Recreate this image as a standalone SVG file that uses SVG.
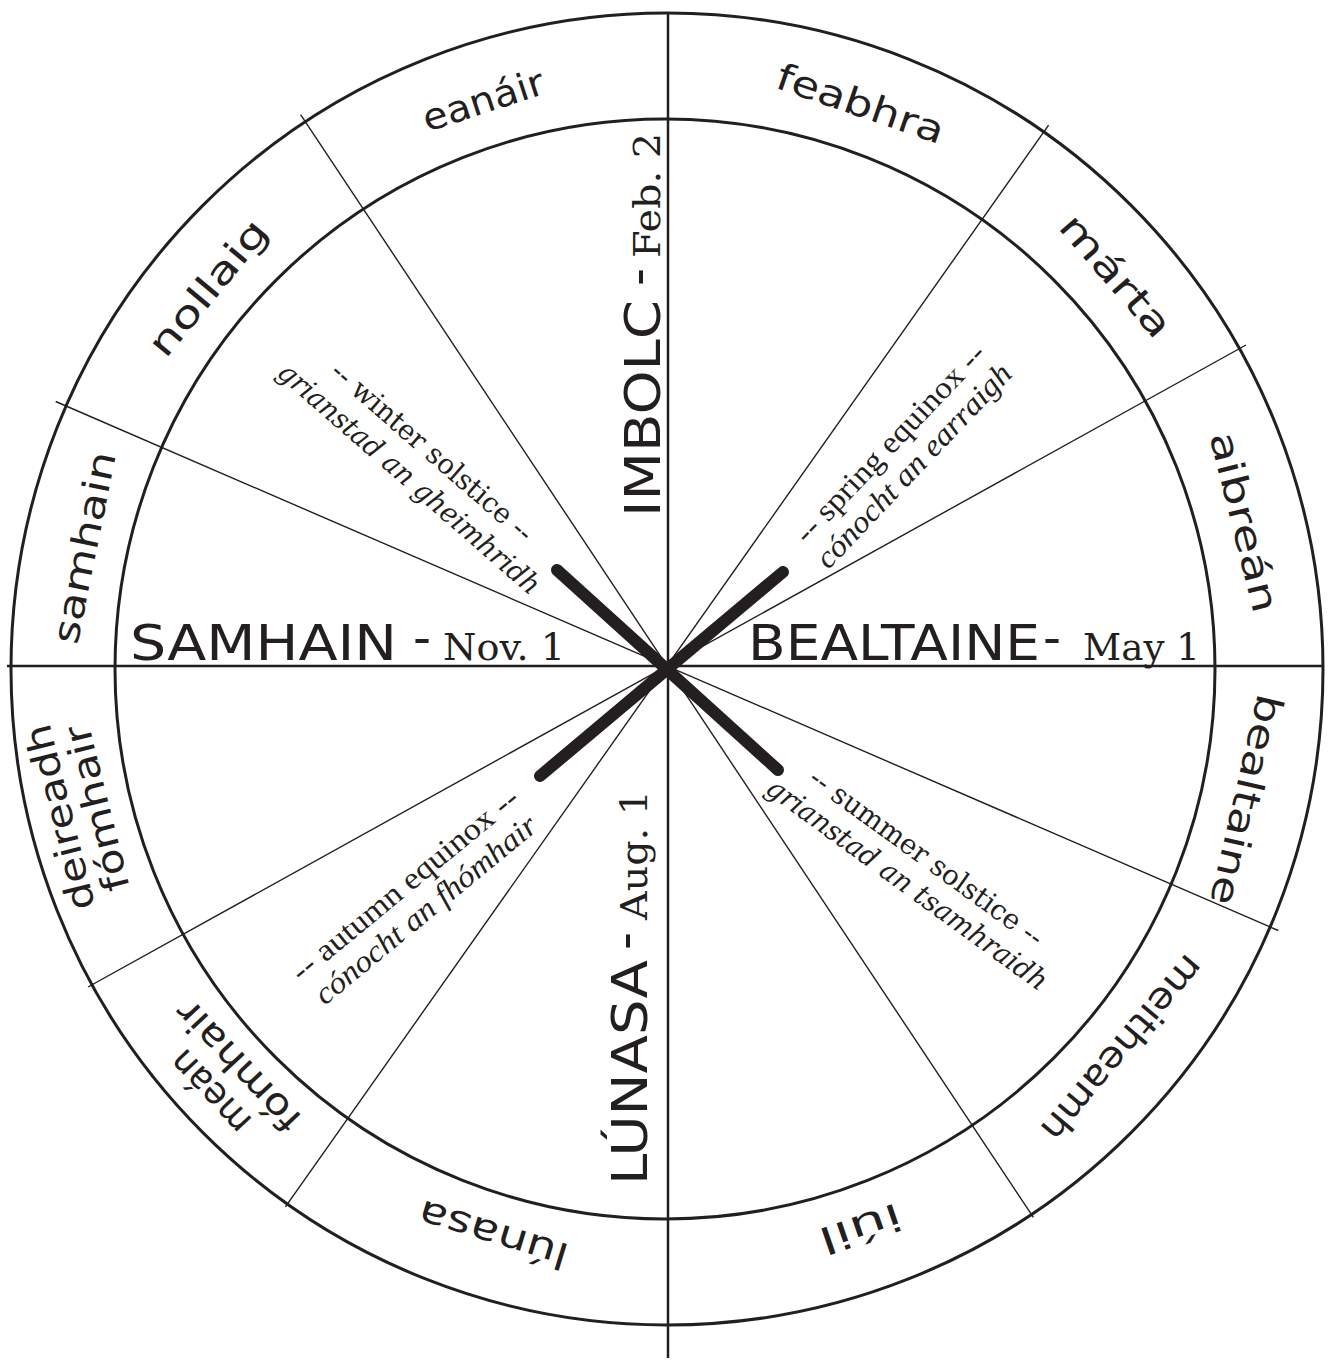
<svg xmlns="http://www.w3.org/2000/svg" width="1333" height="1360" viewBox="0 0 1333 1360">
<style>
.ring{fill:none;stroke:#231f20;stroke-width:3}
.axis{stroke:#231f20;stroke-width:2.5}
.div{stroke:#231f20;stroke-width:1.4}
.bar{stroke:#231f20;stroke-width:12;stroke-linecap:round}
.month{font-family:"DejaVu Sans",sans-serif;font-size:37px;fill:#231f20;text-anchor:middle}
.fest{font-family:"DejaVu Sans",sans-serif;font-size:50px;fill:#231f20}
.date{font-family:"DejaVu Serif",serif;font-size:38px;fill:#231f20}
.sol{font-family:"DejaVu Serif",serif;font-size:28px;fill:#231f20;text-anchor:middle}
.eq{font-family:"Liberation Serif",serif;font-size:31px;fill:#231f20;text-anchor:middle}
.it{font-style:italic}
</style>
<rect width="1333" height="1360" fill="#fff"/>
<g id="wheel">
<circle class="ring" cx="667" cy="669" r="656"/>
<circle class="ring" cx="665" cy="669" r="550"/>
</g>
<g id="connectors">
<line class="axis" x1="7" y1="666" x2="1324" y2="666"/>
<line class="axis" x1="668" y1="12" x2="668" y2="1358"/>
<line class="div" x1="55.7" y1="401.5" x2="1278.3" y2="930.5"/>
<line class="div" x1="300.6" y1="114.6" x2="1033.4" y2="1217.4"/>
<line class="div" x1="1048.6" y1="125.1" x2="285.4" y2="1206.9"/>
<line class="div" x1="1246" y1="345" x2="88" y2="987"/>
<line class="bar" x1="557" y1="570" x2="778" y2="770"/>
<line class="bar" x1="783" y1="572" x2="540" y2="776"/>
</g>
<g id="months">
<g id="m-eanair" transform="rotate(-18 667 666)"><text class="month" x="667" y="84" textLength="126" lengthAdjust="spacingAndGlyphs">eanáir</text></g>
<g id="m-feabhra" transform="rotate(19 667 666)"><text class="month" x="667" y="84" textLength="175" lengthAdjust="spacingAndGlyphs">feabhra</text></g>
<g id="m-marta" transform="rotate(49 667 666)"><text class="month" x="667" y="84" textLength="150" lengthAdjust="spacingAndGlyphs">márta</text></g>
<g id="m-aibrean" transform="rotate(76 667 666)"><text class="month" x="667" y="84" textLength="185" lengthAdjust="spacingAndGlyphs">aibreán</text></g>
<g id="m-bealtaine" transform="rotate(103 667 666)"><text class="month" x="667" y="84" textLength="215" lengthAdjust="spacingAndGlyphs">bealtaine</text></g>
<g id="m-meitheamh" transform="rotate(130 667 666)"><text class="month" x="667" y="84" textLength="230" lengthAdjust="spacingAndGlyphs">meitheamh</text></g>
<g id="m-iuil" transform="rotate(161 667 666)"><text class="month" x="667" y="84" textLength="85" lengthAdjust="spacingAndGlyphs">iúil</text></g>
<g id="m-lunasa" transform="rotate(197 667 666)"><text class="month" x="667" y="84" textLength="155" lengthAdjust="spacingAndGlyphs">lúnasa</text></g>
<g id="m-mean-fomhair" transform="rotate(227 667 666)"><text class="month" x="667" y="54" textLength="100" lengthAdjust="spacingAndGlyphs">meán</text><text class="month" x="667" y="92" textLength="165" lengthAdjust="spacingAndGlyphs">fómhair</text></g>
<g id="m-deireadh-fomhair" transform="rotate(256 667 666)"><text class="month" x="667" y="53" textLength="190" lengthAdjust="spacingAndGlyphs">deireadh</text><text class="month" x="667" y="91" textLength="170" lengthAdjust="spacingAndGlyphs">fómhair</text></g>
<g id="m-samhain" transform="rotate(281.5 667 666)"><text class="month" x="667" y="84" textLength="195" lengthAdjust="spacingAndGlyphs">samhain</text></g>
<g id="m-nollaig" transform="rotate(-50.5 667 666)"><text class="month" x="667" y="84" textLength="165" lengthAdjust="spacingAndGlyphs">nollaig</text></g>
</g>
<g id="festivals">
<g id="f-samhain"><text class="fest" x="130" y="660" textLength="267" lengthAdjust="spacingAndGlyphs">SAMHAIN</text><text class="fest" x="413" y="655">-</text><text class="date" x="443" y="660" textLength="122" lengthAdjust="spacingAndGlyphs">Nov. 1</text></g>
<g id="f-bealtaine"><text class="fest" x="748" y="660" textLength="292" lengthAdjust="spacingAndGlyphs">BEALTAINE</text><text class="fest" x="1043" y="655">-</text><text class="date" x="1083" y="660" textLength="117" lengthAdjust="spacingAndGlyphs">May 1</text></g>
<g id="f-imbolc" transform="translate(660 0) rotate(-90)"><text class="fest" x="-517" y="0" textLength="217" lengthAdjust="spacingAndGlyphs">IMBOLC</text><text class="fest" x="-286" y="-5">-</text><text class="date" x="-258" y="0" textLength="125" lengthAdjust="spacingAndGlyphs">Feb. 2</text></g>
<g id="f-lunasa" transform="translate(647 0) rotate(-90)"><text class="fest" x="-1185" y="0" textLength="225" lengthAdjust="spacingAndGlyphs">LÚNASA</text><text class="fest" x="-950" y="-5">-</text><text class="date" x="-920" y="0" textLength="130" lengthAdjust="spacingAndGlyphs">Aug. 1</text></g>
</g>
<g id="seasons">
<g id="s-winter" transform="translate(426 459) rotate(41)"><text class="sol" x="0" y="0" textLength="258" lengthAdjust="spacingAndGlyphs">-- winter solstice --</text><text class="sol it" x="0" y="35" textLength="337" lengthAdjust="spacingAndGlyphs">grianstad an gheimhridh</text></g>
<g id="s-spring" transform="translate(897 450) rotate(-46.5)"><text class="eq" x="0" y="0" textLength="262" lengthAdjust="spacingAndGlyphs">-- spring equinox --</text><text class="eq it" x="0" y="33" textLength="269" lengthAdjust="spacingAndGlyphs">cónocht an earraigh</text></g>
<g id="s-summer" transform="translate(921 865) rotate(36)"><text class="sol" x="0" y="0" textLength="282" lengthAdjust="spacingAndGlyphs">-- summer solstice --</text><text class="sol it" x="0" y="33" textLength="340" lengthAdjust="spacingAndGlyphs">grianstad an tsamhraidh</text></g>
<g id="s-autumn" transform="translate(411 892) rotate(-39.5)"><text class="eq" x="0" y="0" textLength="285" lengthAdjust="spacingAndGlyphs">-- autumn equinox --</text><text class="eq it" x="0" y="33" textLength="278" lengthAdjust="spacingAndGlyphs">cónocht an fhómhair</text></g>
</g>
</svg>
